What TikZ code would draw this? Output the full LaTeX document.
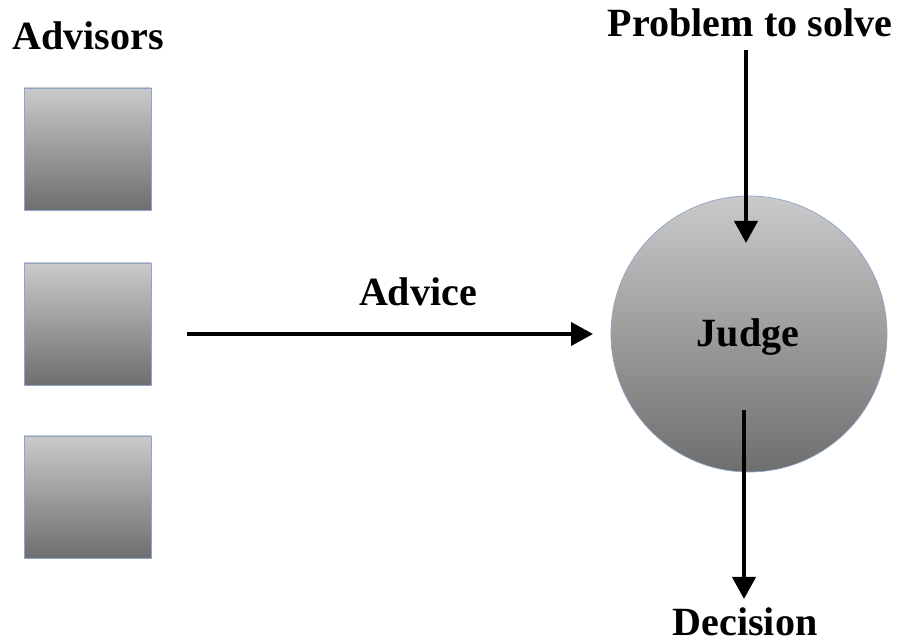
\documentclass[tikz,border=0pt]{standalone}
\usepackage{fontspec}
\setmainfont{Liberation Serif}
\usetikzlibrary{arrows.meta}
\definecolor{shadetop}{RGB}{202,202,202}
\definecolor{shadebottom}{RGB}{110,110,110}
\definecolor{rimblue}{RGB}{140,165,200}
\tikzset{
    advisorbox/.style={rectangle,draw=rimblue,thin,top color=shadetop,bottom color=shadebottom,
        minimum width=2.54cm,minimum height=2.44cm,inner sep=0pt},
    judgecircle/.style={circle,draw=rimblue,thin,top color=shadetop,bottom color=shadebottom,
        minimum size=5.52cm,inner sep=0pt},
    flowvec/.style={-{Triangle[length=0.44cm,width=0.46cm]},line width=0.08cm},
    caption/.style={font=\fontsize{22.8}{26}\selectfont\bfseries,inner sep=0pt,anchor=base}
}
\begin{document}
\begin{tikzpicture}
    \useasboundingbox (0,0) rectangle (17.96,12.88);
    % Advisors
    \node[caption] (advisors) at (1.76,11.88) {Advisors};
    \node[advisorbox] (adv1) at (1.75,9.9) {};
    \node[advisorbox] (adv2) at (1.75,6.4) {};
    \node[advisorbox] (adv3) at (1.75,2.94) {};
    % Judge
    \node[judgecircle] (judge) at (14.98,6.2) {};
    \node[caption] (judgetext) at (14.96,5.94) {Judge};
    % Advice
    \coordinate (advfrom) at (3.74,6.2);
    \coordinate (advto) at (11.86,6.2);
    \draw[flowvec] (advfrom) -- (advto);
    \node[caption] (advice) at (8.36,6.76) {Advice};
    % Problem in, decision out
    \node[caption] (problem) at (15.0,12.14) {Problem to solve};
    \coordinate (probfrom) at (14.92,11.88);
    \coordinate (probto) at (14.92,8.02);
    \draw[flowvec] (probfrom) -- (probto);
    \node[caption] (decision) at (14.9,0.17) {Decision};
    \coordinate (decfrom) at (14.88,4.68);
    \coordinate (decto) at (14.88,0.9);
    \draw[flowvec] (decfrom) -- (decto);
\end{tikzpicture}
\end{document}
